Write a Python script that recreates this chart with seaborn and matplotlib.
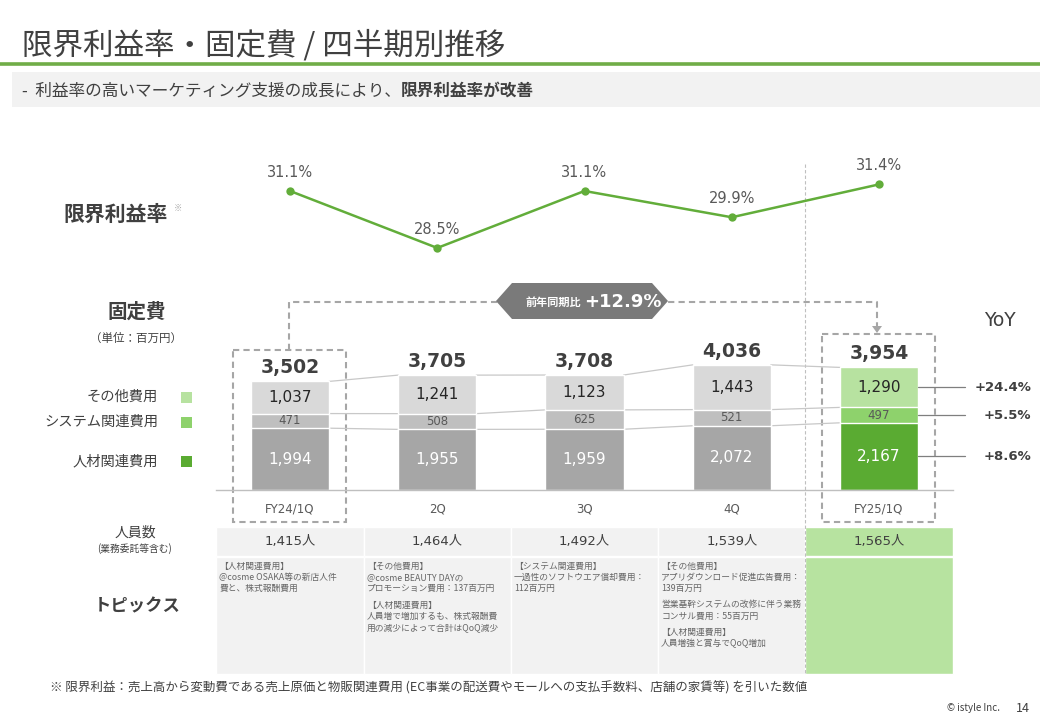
import numpy as np
import matplotlib
matplotlib.use("Agg")
import matplotlib.pyplot as plt
from matplotlib.patches import Polygon, Rectangle
import seaborn as sns

# data
quarters = ["FY24/1Q", "2Q", "3Q", "4Q", "FY25/1Q"]
margin_rate = [31.1, 28.5, 31.1, 29.9, 31.4]
people_cost = [1994, 1955, 1959, 2072, 2167]
system_cost = [471, 508, 625, 521, 497]
other_cost = [1037, 1241, 1123, 1443, 1290]
fixed_total = [3502, 3705, 3708, 4036, 3954]
yoy_labels = ["+24.4%", "+5.5%", "+8.6%"]  # other, system, people
headcount = ["1,415人", "1,464人", "1,492人", "1,539人", "1,565人"]
topics = [
    [["【人材関連費用】", "@cosme OSAKA等の新店人件", "費と、株式報酬費用"]],
    [["【その他費用】", "@cosme BEAUTY DAYの", "プロモーション費用：137百万円"],
     ["【人材関連費用】", "人員増で増加するも、株式報酬費", "用の減少によって合計はQoQ減少"]],
    [["【システム関連費用】", "一過性のソフトウエア償却費用：", "112百万円"]],
    [["【その他費用】", "アプリダウンロード促進広告費用：", "139百万円"],
     ["営業基幹システムの改修に伴う業務", "コンサル費用：55百万円"],
     ["【人材関連費用】", "人員増強と賞与でQoQ増加"]],
    [],
]

sns.set_style("white")
plt.rcParams["font.family"] = ["Noto Sans CJK JP", "DejaVu Sans"]
NUM = ["DejaVu Sans", "Noto Sans CJK JP"]
DARK = "#404040"
MID = "#595959"
GREY_C = ["#a6a6a6", "#bfbfbf", "#d9d9d9"]
GREEN_C = ["#5aab32", "#8ed26c", "#b7e2a0"]

W, H = 1040, 720
fig = plt.figure(figsize=(W / 100, H / 100), dpi=100)

# pixel overlay for the slide furniture
bg = fig.add_axes([0, 0, 1, 1])
bg.set_xlim(0, W)
bg.set_ylim(H, 0)
bg.axis("off")

bg.text(22, 46, "限界利益率・固定費 / 四半期別推移", fontsize=22, color=DARK, va="center")
bg.plot([0, W], [64, 64], color="#70ad47", lw=2.6, solid_capstyle="butt")
bg.add_patch(Rectangle((12, 72), W - 12, 35, color="#f2f2f2", lw=0))
t1 = bg.text(22, 91, "-  利益率の高いマーケティング支援の成長により、", fontsize=12,
             color=DARK, va="center")
fig.canvas.draw()
ext = t1.get_window_extent(fig.canvas.get_renderer())
bg.text(ext.x1, 91, "限界利益率が改善", fontsize=12, color=DARK, va="center", fontweight="bold")

# left labels
bg.text(168, 214, "限界利益率", fontsize=15, fontweight="bold", color=DARK, ha="right", va="center")
bg.text(174, 208, "※", fontsize=6, color="#a6a6a6", va="center")
bg.text(137, 312, "固定費", fontsize=14, fontweight="bold", color=DARK, ha="center", va="center")
bg.text(136, 338, "（単位：百万円）", fontsize=8.3, color=DARK, ha="center", va="center")
for lab, yy, col in [("その他費用", 397, GREEN_C[2]), ("システム関連費用", 422, GREEN_C[1]),
                     ("人材関連費用", 461, GREEN_C[0])]:
    bg.text(158, yy, lab, fontsize=10.3, color=DARK, ha="right", va="center")
    bg.add_patch(Rectangle((181, yy - 5.5), 11, 11, color=col, lw=0))

# YoY bracket: dashed boxes + connector
dash = dict(color="#a6a6a6", lw=1.5, ls=(0, (3, 2)))
bg.add_patch(Rectangle((233, 350), 113, 172, fill=False, **dash))
bg.add_patch(Rectangle((822, 334), 113, 188, fill=False, **dash))
bg.plot([289, 289, 877, 877], [350, 302, 302, 328], **dash)
bg.add_patch(Polygon([[872, 326], [882, 326], [877, 333]], color="#a6a6a6", lw=0))
bg.add_patch(Polygon([[496, 301], [512, 283], [652, 283], [668, 301], [652, 319], [512, 319]],
                     color="#7a7a7a", lw=0, zorder=5))
bg.text(581, 302, "前年同期比", fontsize=8, fontweight="bold", color="white", ha="right",
        va="center", zorder=6)
bg.text(584, 302, "+12.9%", fontsize=13, fontweight="bold", color="white", ha="left",
        va="center", zorder=6, family=NUM)
bg.plot([805, 805], [164, 674], color="#bfbfbf", lw=0.8, ls=(0, (3, 2)), zorder=4)
bg.text(1000, 320, "YoY", fontsize=13.5, color=DARK, ha="center", va="center", family=NUM)

# table
col_l = [216.4 + i * 147.25 for i in range(5)]
bg.text(135, 533, "人員数", fontsize=10, color=DARK, ha="center", va="center")
bg.text(135, 549, "(業務委託等含む)", fontsize=7, color=DARK, ha="center", va="center")
bg.text(137, 606, "トピックス", fontsize=12.5, fontweight="bold", color=DARK, ha="center", va="center")
for i, x0 in enumerate(col_l):
    fc = "#b7e3a0" if i == 4 else "#f2f2f2"
    bg.add_patch(Rectangle((x0, 527), 147.25, 29, fc=fc, ec="white", lw=1))
    bg.add_patch(Rectangle((x0, 557), 147.25, 117, fc=fc, ec="white", lw=1))
    bg.text(x0 + 73.6, 541.5, headcount[i], fontsize=9.5, color=DARK, ha="center",
            va="center", family=NUM)
    yy = 566
    for para in topics[i]:
        for line in para:
            bg.text(x0 + 3, yy, line, fontsize=6.3, color="#666666", va="center")
            yy += 11.3
        yy += 5

bg.text(50, 688, "※ 限界利益：売上高から変動費である売上原価と物販関連費用 (EC事業の配送費やモールへの支払手数料、店舗の家賃等) を引いた数値",
        fontsize=9, color=DARK, va="center")
bg.text(1000, 708, "© istyle Inc.", fontsize=7, color=DARK, ha="right", va="center")
bg.text(1023, 708, "14", fontsize=9, color=DARK, ha="center", va="center")

# line chart
left, width = 216.4 / W, 736.2 / W
lax = fig.add_axes([left, (H - 260) / H, width, 110 / H])
lax.patch.set_alpha(0)
xs = np.arange(len(quarters))
sns.lineplot(x=xs, y=margin_rate, ax=lax, color="#62ad3a", lw=1.8, marker="o",
             markersize=6, markeredgewidth=0, sort=False)
for x, v in zip(xs, margin_rate):
    lax.annotate(f"{v:.1f}%", (x, v), xytext=(0, 8), textcoords="offset points",
                 ha="center", va="bottom", fontsize=10.5, color=MID, family=NUM)
lax.set_xlim(-0.5, 4.5)
lax.set_ylim(27.95, 32.97)
lax.axis("off")

# stacked bars
bax = fig.add_axes([left, (H - 490) / H, width, 160 / H])
bax.patch.set_alpha(0)
low = np.array(people_cost)
mid = low + np.array(system_cost)
top = np.array(fixed_total)
bw = 0.53
for layer, k in [(top, 2), (mid, 1), (low, 0)]:
    pal = {q: (GREEN_C[k] if i == 4 else GREY_C[k]) for i, q in enumerate(quarters)}
    sns.barplot(x=quarters, y=layer, hue=quarters, palette=pal, legend=False, ax=bax,
                width=bw, edgecolor="white", linewidth=1, saturation=1)
bax.set_xlim(-0.5, 4.5)
bax.set_ylim(0, 5160)

# thin lines joining segment boundaries of neighbouring bars
for i in range(len(quarters) - 1):
    for arr in (low, mid, top):
        bax.plot([i + bw / 2, i + 1 - bw / 2], [arr[i], arr[i + 1]], color="#c8c8c8",
                 lw=0.9, zorder=0)

for i in range(len(quarters)):
    bax.text(i, low[i] / 2, f"{people_cost[i]:,}", ha="center", va="center",
             fontsize=11, color="white", family=NUM)
    bax.text(i, (low[i] + mid[i]) / 2, f"{system_cost[i]:,}", ha="center", va="center",
             fontsize=8.5, color=MID, family=NUM)
    bax.text(i, (mid[i] + top[i]) / 2, f"{other_cost[i]:,}", ha="center", va="center",
             fontsize=11, color="#262626", family=NUM)
    bax.annotate(f"{fixed_total[i]:,}", (i, top[i]), xytext=(0, 3), textcoords="offset points",
                 ha="center", va="bottom", fontsize=13.5, fontweight="bold", color=DARK,
                 family=NUM)

# YoY leader lines
last = len(quarters) - 1
for yv, lab in zip([(mid[last] + top[last]) / 2, (low[last] + mid[last]) / 2, low[last] / 2],
                   yoy_labels):
    bax.plot([last + bw / 2, 4.585], [yv, yv], color="#7f7f7f", lw=0.9, clip_on=False)
    bax.text(5.035, yv, lab, ha="right", va="center", fontsize=9.5, fontweight="bold",
             color=DARK, family=NUM, clip_on=False)

bax.set_xlabel("")
bax.set_ylabel("")
bax.set_yticks([])
bax.tick_params(axis="x", length=0, pad=9, labelsize=8.5, labelcolor=MID)
for lbl in bax.get_xticklabels():
    lbl.set_family(NUM)
for s in ["top", "left", "right"]:
    bax.spines[s].set_visible(False)
bax.spines["bottom"].set_color("#bfbfbf")
bax.spines["bottom"].set_linewidth(1)

fig.savefig("out.png", dpi=100)
